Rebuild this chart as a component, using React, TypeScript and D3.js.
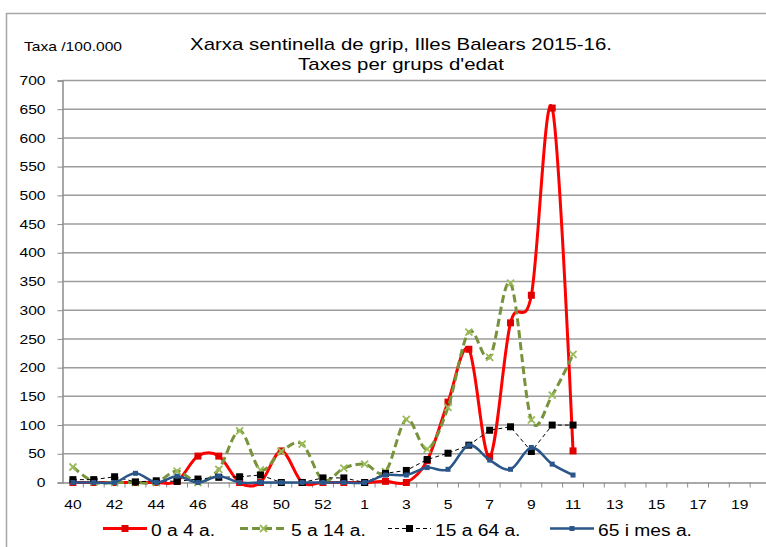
import React, { useRef, useEffect } from 'react';
import * as d3 from 'd3';

const width = 766;
const height = 547;

// weeks of the 2015-16 season (2015 had 53 weeks)
const weeks = [
    '40', '41', '42', '43', '44', '45', '46', '47', '48', '49', '50', '51', '52', '53',
    '1', '2', '3', '4', '5', '6', '7', '8', '9', '10', '11', '12', '13', '14', '15', '16', '17', '18', '19', '20'
];

const yTicks = [0, 50, 100, 150, 200, 250, 300, 350, 400, 450, 500, 550, 600, 650, 700];

const age0to4 = [0, 0, 0, 0, 0, 2, 46, 46, 0, 0, 55, 0, 0, 0, 0, 2, 0, 38, 140, 232, 45, 278, 326, 652, 55];
const age5to14 = [27, 1, 0, 0, 0, 20, 0, 23, 90, 22, 54, 67, 4, 25, 32, 19, 110, 58, 131, 262, 218, 347, 109, 152, 223];
const age15to64 = [5, 5, 10, 1, 3, 2, 6, 9, 10, 13, 0, 0, 8, 8, 0, 16, 21, 40, 51, 65, 91, 97, 54, 100, 100];
const age65plus = [0, 0, 0, 16, 0, 11, 0, 11, 0, 0, 0, 0, 0, 0, 0, 13, 13, 26, 23, 65, 39, 23, 61, 32, 13];

const seriesNames = ['0 a 4 a.', '5 a 14 a.', '15 a 64 a.', '65 i mes a.'];

const series = [
    { name: seriesNames[0], values: age0to4, color: '#FF0000', mark: '#E00000', width: 3, dash: null, smooth: true, marker: 'square', size: 7 },
    { name: seriesNames[1], values: age5to14, color: '#77933C', mark: '#9BBB59', width: 3, dash: '8,4', smooth: true, marker: 'cross', size: 7 },
    { name: seriesNames[2], values: age15to64, color: '#000000', mark: '#000000', width: 1, dash: '4,3', smooth: false, marker: 'square', size: 7 },
    { name: seriesNames[3], values: age65plus, color: '#2A5689', mark: '#2A5689', width: 2.5, dash: null, smooth: true, marker: 'square', size: 5 },
];

const font = 'Liberation Sans, Arial, sans-serif';

// the original export is a little wider than tall, so the text is stretched sideways
const stretch = 1.2;

export default function App() {
    const svgRef = useRef<SVGSVGElement>(null);

    useEffect(() => {
        const svg = d3.select(svgRef.current);
        svg.selectAll('*').remove();

        const x = d3.scaleBand()
            .domain(weeks)
            .range([62.5, 771])
            .padding(0);

        const y = d3.scaleLinear()
            .domain([0, 700])
            .range([482.5, 80.5]);

        const cx = (i: number) => (x(weeks[i]) as number) + x.bandwidth() / 2;

        // outer frame
        svg.append('path')
            .attr('d', `M6.5,${height} V13.5 H${width}`)
            .attr('fill', 'none')
            .attr('stroke', '#A6A6A6')
            .attr('stroke-width', 1.5);

        // gridlines
        svg.selectAll('.grid')
            .data(yTicks.filter(t => t > 0))
            .enter()
            .append('line')
            .attr('x1', 62.5)
            .attr('x2', width)
            .attr('y1', d => y(d))
            .attr('y2', d => y(d))
            .attr('stroke', '#9C9C9C')
            .attr('stroke-width', 1.5);

        // y axis
        const yAxis = svg.append('g')
            .attr('transform', 'translate(62.5,0)')
            .call(d3.axisLeft(y).tickValues(yTicks).tickSize(5).tickPadding(12));
        yAxis.select('.domain').attr('stroke', '#8C8C8C').attr('stroke-width', 1.5);
        yAxis.selectAll('.tick line').attr('stroke', '#8C8C8C');
        yAxis.selectAll('text')
            .attr('font-family', font)
            .attr('font-size', 13)
            .attr('fill', '#000');

        // x axis
        const xAxis = svg.append('g')
            .attr('transform', 'translate(0,482.5)')
            .call(d3.axisBottom(x).tickSize(0).tickPadding(17)
                .tickFormat((d, i) => (i % 2 === 0 ? d : '')));
        xAxis.select('.domain').attr('stroke', '#8C8C8C').attr('stroke-width', 1.5);
        xAxis.selectAll('text')
            .attr('font-family', font)
            .attr('font-size', 13)
            .attr('fill', '#000');
        xAxis.selectAll('.boundary')
            .data(weeks)
            .enter()
            .append('line')
            .attr('class', 'boundary')
            .attr('x1', d => (x(d) as number) + x.bandwidth())
            .attr('x2', d => (x(d) as number) + x.bandwidth())
            .attr('y1', 0)
            .attr('y2', 5)
            .attr('stroke', '#8C8C8C');

        // lines
        series.forEach(s => {
            const line = d3.line<number>()
                .x((d, i) => cx(i))
                .y(d => y(d))
                .curve(s.smooth ? d3.curveCardinal.tension(0) : d3.curveLinear);

            svg.append('path')
                .datum(s.values)
                .attr('d', line)
                .attr('fill', 'none')
                .attr('stroke', s.color)
                .attr('stroke-width', s.width)
                .attr('stroke-dasharray', s.dash)
                .attr('stroke-linejoin', 'round');

            const marks = svg.append('g');
            s.values.forEach((v, i) => {
                drawMarker(marks, s, cx(i), y(v));
            });
        });

        // title
        svg.append('text')
            .attr('x', 401)
            .attr('y', 50)
            .attr('text-anchor', 'middle')
            .attr('font-family', font)
            .attr('font-size', 17)
            .attr('fill', '#000')
            .text('Xarxa sentinella de grip, Illes Balears 2015-16.');
        svg.append('text')
            .attr('x', 401)
            .attr('y', 70)
            .attr('text-anchor', 'middle')
            .attr('font-family', font)
            .attr('font-size', 17)
            .attr('fill', '#000')
            .text("Taxes per grups d'edat");

        svg.append('text')
            .attr('x', 24)
            .attr('y', 51)
            .attr('font-family', font)
            .attr('font-size', 13)
            .attr('fill', '#000')
            .text('Taxa /100.000');

        // legend
        const legendX = [103, 240, 388, 550];
        const legendLen = [44, 47, 43, 44];
        series.forEach((s, i) => {
            const g = svg.append('g').attr('transform', `translate(${legendX[i]},528.5)`);
            g.append('line')
                .attr('x1', 0)
                .attr('x2', legendLen[i])
                .attr('y1', 0)
                .attr('y2', 0)
                .attr('stroke', s.color)
                .attr('stroke-width', s.width)
                .attr('stroke-dasharray', s.dash);
            drawMarker(g, s, legendLen[i] / 2, 0);
            g.append('text')
                .attr('x', legendLen[i] + 4)
                .attr('y', 7)
                .attr('font-family', font)
                .attr('font-size', 16)
                .attr('fill', '#000')
                .text(s.name);
        });

        svg.selectAll<SVGTextElement, unknown>('text').each(function () {
            const len = this.getComputedTextLength();
            if (len > 0) {
                d3.select(this)
                    .attr('textLength', len * stretch)
                    .attr('lengthAdjust', 'spacingAndGlyphs');
            }
        });
    }, []);

    return (
        <svg
            ref={svgRef}
            width={width}
            height={height}
            style={{ position: 'absolute', left: 0, top: 0, background: '#fff' }}
        />
    );
}

function drawMarker(g: any, s: any, px: number, py: number) {
    const h = s.size / 2;
    if (s.marker === 'square') {
        g.append('rect')
            .attr('x', px - h)
            .attr('y', py - h)
            .attr('width', s.size)
            .attr('height', s.size)
            .attr('fill', s.mark);
    } else {
        g.append('path')
            .attr('d', `M${px - h},${py - h}L${px + h},${py + h}M${px - h},${py + h}L${px + h},${py - h}`)
            .attr('stroke', s.mark)
            .attr('stroke-width', 1.8)
            .attr('fill', 'none');
    }
}
